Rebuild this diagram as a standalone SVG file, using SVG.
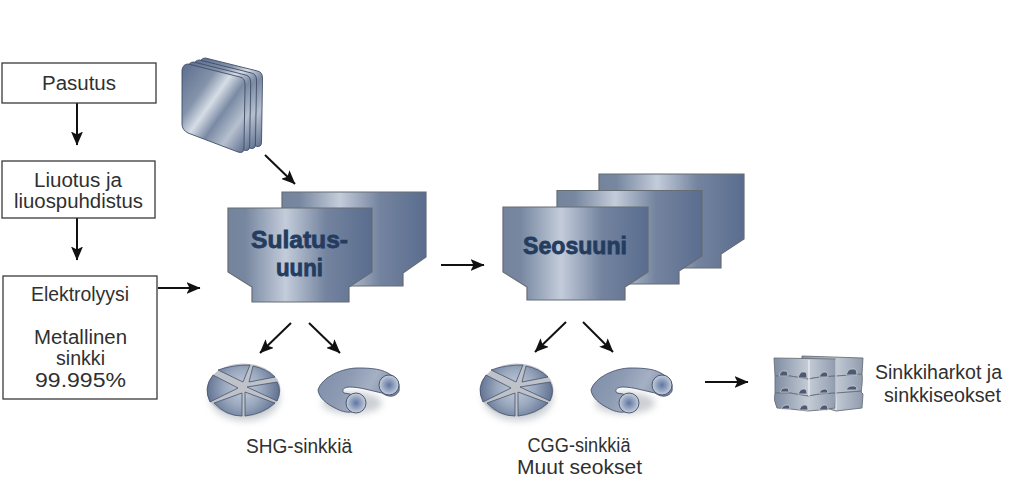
<svg xmlns="http://www.w3.org/2000/svg" xmlns:xlink="http://www.w3.org/1999/xlink" width="1024" height="482" viewBox="0 0 1024 482">
<style>
.box{fill:#fff;stroke:#3a3a3a;stroke-width:1.3}
.t{font-family:"Liberation Sans",Arial,sans-serif;font-size:20px;fill:#303030;text-anchor:middle}
.b{font-family:"Liberation Sans",Arial,sans-serif;font-weight:700;font-size:24px;fill:#243c60;stroke:#243c60;stroke-width:.8;text-anchor:middle}
.f{fill:url(#metal);stroke:#666c74;stroke-width:1.2}
.c{fill:none;stroke:#111;stroke-width:2;marker-end:url(#ah)}
.pie{fill:url(#pie);stroke:#45536d;stroke-width:.8}
.ing{fill:url(#ingot);stroke:#6a7078;stroke-width:.9}
.hole{fill:#4e5a72;stroke:#c9ced6;stroke-width:.8}
.pl{fill:url(#plate);stroke:#3f4d66;stroke-width:.9}
</style>
<defs>
<marker id="ah" viewBox="0 0 14 12" refX="13.500" refY="6" markerUnits="userSpaceOnUse" markerWidth="14" markerHeight="12" orient="auto"><path d="M0 0L14 6L0 12L3 6Z" fill="#111"/></marker>
<linearGradient id="metal" x1="0" x2="1" y1="0" y2="0"><stop offset="0" stop-color="#74849c"/><stop offset=".12" stop-color="#7787a0"/><stop offset=".4" stop-color="#c3ccda"/><stop offset=".68" stop-color="#74849f"/><stop offset="1" stop-color="#5a6d8e"/></linearGradient>
<linearGradient id="plate" x1="0" y1="0" x2="1" y2="1"><stop offset="0" stop-color="#5c6e8e"/><stop offset=".3" stop-color="#8493aa"/><stop offset=".45" stop-color="#d6dde6"/><stop offset=".6" stop-color="#7a8aa4"/><stop offset=".78" stop-color="#b6c0cf"/><stop offset="1" stop-color="#5b6d8d"/></linearGradient>
<radialGradient id="pie" gradientUnits="userSpaceOnUse" cx="243" cy="388" r="38"><stop offset="0" stop-color="#c7cfdb"/><stop offset=".5" stop-color="#9aa8be"/><stop offset="1" stop-color="#5d6e8e"/></radialGradient>
<linearGradient id="ring" x1="0" x2="1" y1="0" y2=".3"><stop offset="0" stop-color="#7f8ea9"/><stop offset=".4" stop-color="#8c9ab2"/><stop offset=".7" stop-color="#a5b0c3"/><stop offset="1" stop-color="#7c8aa6"/></linearGradient>
<radialGradient id="end"><stop offset="0" stop-color="#5f75a3"/><stop offset=".65" stop-color="#a0aec6"/><stop offset="1" stop-color="#c9d1dc"/></radialGradient>
<linearGradient id="ingot" x1="0" x2="1" y1="0" y2="0"><stop offset="0" stop-color="#7f8da2"/><stop offset=".55" stop-color="#c5ccd7"/><stop offset="1" stop-color="#8f9bae"/></linearGradient>
<filter id="soft" x="-30%" y="-30%" width="160%" height="170%"><feGaussianBlur stdDeviation="3.500"/></filter>
<path id="plateShape" class="pl" d="M188 64Q183 64 182 70L182 124Q182 130 188 133L238 152Q244 154 244 148L245 84Q245 78 240 77Z"/>
<g id="disc">
<ellipse cx="245" cy="398" rx="35" ry="23" fill="#9aa0a8" opacity=".5" filter="url(#soft)"/>
<ellipse cx="243.500" cy="390" rx="37" ry="26.500" fill="#bfc3c9"/>
<path class="pie" d="M218 370Q232 365 250 365L243 382Z"/>
<path class="pie" d="M253 366Q267 369 275 377L249 382Z"/>
<path class="pie" d="M277 382Q282 391 277 401L247 387Z"/>
<path class="pie" d="M275 403Q263 414 245 416L245 392Z"/>
<path class="pie" d="M242 416Q226 416 214 403L242 393Z"/>
<path class="pie" d="M210 402Q203 388 213 375L238 388Z"/>
</g>
<g id="ringShape">
<ellipse cx="352" cy="403" rx="30" ry="11" fill="#9aa0a8" opacity=".5" filter="url(#soft)"/>
<path d="M318 390C322 377 342 368 358 368C372 368 383 369 391 375C398 378 400 385 399 391C396 397 389 398 382 393C372 391 360 387 350 387C344 387 341 390 344 393L350 394C358 398 360 405 356 410C351 414 342 412 335 408C327 404 319 398 318 390Z" fill="url(#ring)" stroke="#4a5773" stroke-width=".9"/>
<circle cx="389" cy="385" r="10" fill="url(#end)" stroke="#3f4d66" stroke-width=".9"/>
<circle cx="356" cy="403" r="10" fill="url(#end)" stroke="#3f4d66" stroke-width=".9"/>
</g>
</defs>
<rect width="1024" height="482" fill="#fff"/>
<g id="connectors">
<path class="c" d="M77 103V145"/>
<path class="c" d="M77 218V260"/>
<path class="c" d="M158 288H200"/>
<path class="c" d="M265 155L295 184"/>
<path class="c" d="M441 265H484"/>
<path class="c" d="M291 323L260 353"/>
<path class="c" d="M309 323L340 353"/>
<path class="c" d="M566 322L535 352"/>
<path class="c" d="M583 322L613 352"/>
<path class="c" d="M705 382H748"/>
</g>
<g id="pasutus"><rect class="box" x="2" y="63" width="154" height="40"/><text class="t" x="79" y="90" textLength="74" lengthAdjust="spacingAndGlyphs">Pasutus</text></g>
<g id="liuotus"><rect class="box" x="2" y="161" width="153" height="57"/><text class="t" x="78" y="187" textLength="88" lengthAdjust="spacingAndGlyphs">Liuotus ja</text><text class="t" x="78.500" y="208" textLength="129" lengthAdjust="spacingAndGlyphs">liuospuhdistus</text></g>
<g id="elektrolyysi"><rect class="box" x="3" y="276" width="154" height="123"/><text class="t" x="80" y="301" textLength="98" lengthAdjust="spacingAndGlyphs">Elektrolyysi</text><text class="t" x="80.500" y="344" textLength="93" lengthAdjust="spacingAndGlyphs">Metallinen</text><text class="t" x="80.500" y="365" textLength="49" lengthAdjust="spacingAndGlyphs">sinkki</text><text class="t" x="80.500" y="387" textLength="91" lengthAdjust="spacingAndGlyphs">99.995%</text></g>
<g id="plates">
<use href="#plateShape" x="17.500" y="-6"/>
<use href="#plateShape" x="11.500" y="-4"/>
<use href="#plateShape" x="5.700" y="-2"/>
<use href="#plateShape"/>
</g>
<g id="sulatusuuni">
<path class="f" d="M282 192H426V257L403 273V286H340V240H282Z"/>
<path class="f" d="M228 208H372V272L349 287V302H252V287L228 272Z"/>
<text class="b" x="299.500" y="248" textLength="97" lengthAdjust="spacingAndGlyphs">Sulatus-</text><text class="b" x="299.500" y="276" textLength="47" lengthAdjust="spacingAndGlyphs">uuni</text>
</g>
<g id="seosuuni">
<path class="f" d="M599 174H744V239L721 254V268H660V220H599Z"/>
<path class="f" d="M557 190.500H702V256L679 271V284H620V230H557Z"/>
<path class="f" d="M503 207H648V272L625 287V300H527V287L503 272Z"/>
<text class="b" x="575" y="254" textLength="104" lengthAdjust="spacingAndGlyphs">Seosuuni</text>
</g>
<g id="shg-disc"><use href="#disc"/></g>
<g id="shg-ring"><use href="#ringShape"/></g>
<g id="cgg-disc"><use href="#disc" x="273"/></g>
<g id="cgg-ring"><use href="#ringShape" x="273"/></g>
<g id="ingots">
<path class="ing" d="M802 356L863 358L862 374Q863 380 861 392L863 394L862 408L836 411L800 400Z"/>
<path class="ing" d="M774 358L836 359V376L820 377L808 379L790 376L775 376Z"/>
<path class="ing" d="M775 376L790 376L808 379L820 377L836 376V393L820 394L808 396L790 393L775 393Z"/>
<path class="ing" d="M775 393L790 393L808 396L820 394L836 393L835 408L820 410L808 411L790 409L777 408Q773 400 775 393Z"/>
<path d="M836 376L862 374M836 393L862 391" stroke="#6a7078" fill="none"/>
<path d="M836 359V410" stroke="#eef0f3" stroke-width="1"/>
<path d="M809 360V379M809 379V396" stroke="#e4e8ee" stroke-width="1.500"/>
<path class="hole" d="M779 376Q781 370 784 371H786Q788 372 788 376ZM798 378Q800 371 803 372H805Q807 372 807 378ZM819 377Q821 372 824 372H826Q828 373 828 377ZM846 375Q848 369 851 369H855Q857 370 857 375ZM780 392Q782 387 785 388H787Q789 388 789 392ZM798 394Q800 389 803 389H805Q807 390 807 394ZM819 393Q821 389 824 389H826Q828 390 828 393ZM846 390Q848 386 851 386H855Q857 387 857 390ZM781 409Q783 405 786 405H788Q790 405 790 409ZM799 410Q801 405 804 405H806Q808 406 808 410ZM819 410Q821 405 824 405H826Q828 406 828 410Z"/>
</g>
<g id="labels">
<text class="t" x="299" y="453" textLength="106" lengthAdjust="spacingAndGlyphs">SHG-sinkkiä</text>
<text class="t" x="579" y="452" textLength="103" lengthAdjust="spacingAndGlyphs">CGG-sinkkiä</text>
<text class="t" x="579.500" y="474" textLength="125" lengthAdjust="spacingAndGlyphs">Muut seokset</text>
<text class="t" x="938.500" y="379" textLength="127" lengthAdjust="spacingAndGlyphs">Sinkkiharkot ja</text>
<text class="t" x="942.500" y="402" textLength="117" lengthAdjust="spacingAndGlyphs">sinkkiseokset</text>
</g>
</svg>
